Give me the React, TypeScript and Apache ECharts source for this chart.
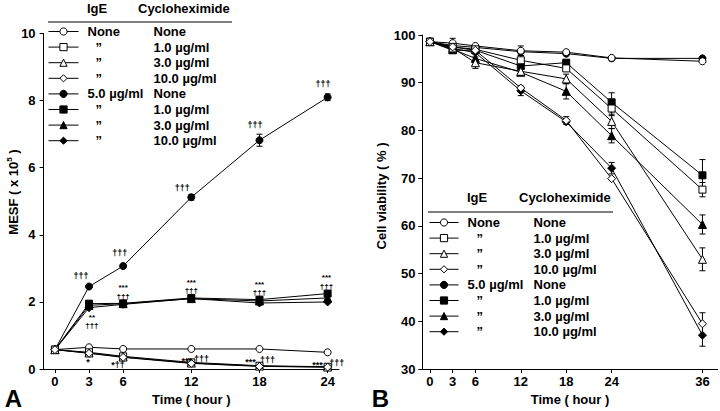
import React, { useEffect, useRef } from "react";
import * as echarts from "echarts";

const FONT = "'Liberation Sans', Arial, Helvetica, sans-serif";

// ---- categories / tick values ----
const hoursA = [0, 3, 6, 12, 18, 24];
const hoursB = [0, 3, 6, 12, 18, 24, 36];
const tickHoursA = [0, 3, 6, 12, 18, 24];
const tickHoursB = [0, 3, 6, 12, 18, 24, 36];

// ---- legend groups ----
const groupIgE = ["None", "”", "”", "”", "5.0 µg/ml", "”", "”", "”"];
const groupCyclo = ["None", "1.0 µg/ml", "3.0 µg/ml", "10.0 µg/ml", "None", "1.0 µg/ml", "3.0 µg/ml", "10.0 µg/ml"];
const groupSymbol = ["circle", "rect", "triangle", "diamond", "circle", "rect", "triangle", "diamond"];
const groupFilled = [false, false, false, false, true, true, true, true];

// ---- Panel A: MESF (x10^5) ----
const mesfNoneNone = [0.58, 0.65, 0.6, 0.6, 0.6, 0.5];
const mesfNoneC1 = [0.58, 0.5, 0.38, 0.2, 0.1, 0.07];
const mesfNoneC3 = [0.58, 0.48, 0.36, 0.18, 0.09, 0.06];
const mesfNoneC10 = [0.58, 0.47, 0.35, 0.17, 0.08, 0.06];
const mesfIgENone = [0.58, 2.46, 3.07, 5.12, 6.82, 8.1];
const mesfIgEC1 = [0.58, 1.95, 1.96, 2.12, 2.07, 2.25];
const mesfIgEC3 = [0.58, 1.9, 1.95, 2.1, 2.03, 2.12];
const mesfIgEC10 = [0.58, 1.83, 1.93, 2.1, 1.97, 2.0];
const mesfIgENoneErr = [0, 0, 0, 0.08, 0.18, 0.1];

// ---- Panel A significance marks ----
const sigLabels = ["†††", "†††", "†††", "†††", "†††", "***\n†††", "***\n†††", "***\n†††", "***\n†††", "**\n†††", "*", "*††", "***", "†††", "***", "†††", "***", "†††"];
const sigHour = [2.3, 5.7, 11.2, 17.6, 23.6, 6, 12, 18, 23.9, 3.25, 2.9, 5.55, 11.6, 12.9, 17.2, 18.7, 23.1, 24.8];
const sigMesf = [2.76, 3.45, 5.4, 7.28, 8.5, 2.29, 2.46, 2.4, 2.59, 1.42, 0.27, 0.18, 0.3, 0.3, 0.28, 0.28, 0.18, 0.18];

// ---- Panel B: cell viability (%) ----
const viabNoneNone = [98.6, 98.3, 97.7, 96.7, 96.4, 95.2, 94.5];
const viabNoneC1 = [98.6, 97.5, 97.0, 94.7, 93.0, 84.6, 67.6];
const viabNoneC3 = [98.6, 97.3, 94.2, 92.4, 90.8, 81.9, 53.0];
const viabNoneC10 = [98.6, 97.5, 96.8, 88.9, 82.1, 69.9, 39.5];
const viabIgENone = [98.6, 97.8, 97.4, 96.5, 96.1, 95.1, 95.1];
const viabIgEC1 = [98.6, 96.8, 96.8, 93.5, 94.2, 85.9, 70.6];
const viabIgEC3 = [98.6, 97.0, 95.1, 92.2, 88.2, 78.9, 60.3];
const viabIgEC10 = [98.6, 97.2, 96.3, 88.3, 81.8, 72.1, 37.1];

const viabNoneNoneErr = [0, 1.0, 0, 1.0, 0, 0, 0];
const viabNoneC1Err = [0, 0, 0, 1.0, 0, 1.5, 1.5];
const viabNoneC3Err = [0, 0, 1.2, 0.8, 1.0, 1.5, 2.4];
const viabNoneC10Err = [0, 0, 0, 0, 0.8, 0, 2.3];
const viabIgENoneErr = [0, 0, 0, 0, 0, 0, 0];
const viabIgEC1Err = [0, 0, 0, 0, 0, 2.0, 3.3];
const viabIgEC3Err = [0, 0, 0, 0, 1.6, 1.5, 2.0];
const viabIgEC10Err = [0, 0, 0, 1.0, 0, 1.2, 2.3];

const mesfAll = [mesfNoneNone, mesfNoneC1, mesfNoneC3, mesfNoneC10, mesfIgENone, mesfIgEC1, mesfIgEC3, mesfIgEC10];
const viabAll = [viabNoneNone, viabNoneC1, viabNoneC3, viabNoneC10, viabIgENone, viabIgEC1, viabIgEC3, viabIgEC10];
const viabErrAll = [viabNoneNoneErr, viabNoneC1Err, viabNoneC3Err, viabNoneC10Err, viabIgENoneErr, viabIgEC1Err, viabIgEC3Err, viabIgEC10Err];

const namesA = groupCyclo.map((_, i) => "A" + i);
const namesB = groupCyclo.map((_, i) => "B" + i);

function lineSeries(name: string, xs: number[], ys: number[], idx: number, axis: number, size: number) {
  const filled = groupFilled[idx];
  return {
    type: "line",
    name,
    xAxisIndex: axis,
    yAxisIndex: axis,
    data: xs.map((x, i) => [x, ys[i]]),
    symbol: groupSymbol[idx],
    symbolSize: groupSymbol[idx] === "triangle" || groupSymbol[idx] === "diamond" ? size + 1 : size,
    showAllSymbol: true,
    lineStyle: { color: "#000", width: 1 },
    itemStyle: { color: filled ? "#000" : "#fff", borderColor: "#000", borderWidth: 1 },
    z: filled ? 3 : 4,
    silent: true,
  };
}

function errSeries(xs: number[], ys: number[], errs: number[], axis: number) {
  const data: number[][] = [];
  xs.forEach((x, i) => {
    if (errs[i] > 0) data.push([x, ys[i] - errs[i], ys[i] + errs[i]]);
  });
  return {
    type: "custom",
    xAxisIndex: axis,
    yAxisIndex: axis,
    data,
    silent: true,
    z: 2,
    renderItem: (_p: any, api: any) => {
      const x = api.value(0);
      const lo = api.coord([x, api.value(1)]);
      const hi = api.coord([x, api.value(2)]);
      const cap = 3;
      const st = { stroke: "#000", lineWidth: 1 };
      return {
        type: "group",
        children: [
          { type: "line", shape: { x1: lo[0], y1: lo[1], x2: hi[0], y2: hi[1] }, style: st },
          { type: "line", shape: { x1: lo[0] - cap, y1: lo[1], x2: lo[0] + cap, y2: lo[1] }, style: st },
          { type: "line", shape: { x1: hi[0] - cap, y1: hi[1], x2: hi[0] + cap, y2: hi[1] }, style: st },
        ],
      };
    },
  };
}

// significance marks drawn as text at data coordinates
function sigSeries() {
  const data = sigLabels.map((t, i) => [sigHour[i], sigMesf[i], i]);
  return {
    type: "custom",
    xAxisIndex: 0,
    yAxisIndex: 0,
    data,
    silent: true,
    z: 6,
    renderItem: (_p: any, api: any) => {
      const p = api.coord([api.value(0), api.value(1)]);
      const t = sigLabels[api.value(2)];
      const multi = t.indexOf("\n") >= 0;
      const dy = !multi && t.charAt(0) === "*" ? 2 : 0;
      return {
        type: "text",
        x: p[0],
        y: p[1] + dy,
        style: {
          text: t,
          fill: "#000",
          fontFamily: FONT,
          fontWeight: "bold",
          fontSize: multi ? 8 : 9,
          lineHeight: multi ? 8.5 : 10,
          textAlign: "center",
          textVerticalAlign: "middle",
        },
      };
    },
  };
}

const txt = { fontFamily: FONT, fontWeight: "bold" as const, fontSize: 13, color: "#000" };

function legendRich(dittoPad: number) {
  return {
    a: { ...txt, width: 66, padding: [0, 0, 0, 4], lineHeight: 16 },
    d: { ...txt, width: 70 - dittoPad, padding: [0, 0, 0, dittoPad], lineHeight: 16 },
    b: { ...txt, lineHeight: 16 },
  };
}

function legendLabel(idx: number) {
  const ige = groupIgE[idx];
  const cy = groupCyclo[idx];
  return ige === "”" ? `{d|${ige}}{b|${cy}}` : `{a|${ige}}{b|${cy}}`;
}

function makeLegend(names: string[], left: number, top: number, itemWidth: number, dittoPad: number) {
  return {
    data: names,
    orient: "vertical",
    left,
    top,
    padding: 0,
    itemWidth,
    itemHeight: 9,
    itemGap: 2.6,
    selectedMode: false,
    itemStyle: { borderWidth: 1 },
    lineStyle: { width: 1 },
    textStyle: { ...txt, rich: legendRich(dittoPad) },
    formatter: (name: string) => legendLabel(names.indexOf(name)),
  };
}

const axisLineStyle = { show: true, lineStyle: { color: "#000", width: 1 } };

function xAxis(gridIndex: number, min: number, max: number, ticks: number[]) {
  return {
    type: "value",
    gridIndex,
    min,
    max,
    axisLine: { ...axisLineStyle, onZero: false },
    axisTick: { show: true, inside: false, length: 4, customValues: ticks, lineStyle: { color: "#000" } },
    axisLabel: { ...txt, margin: 6, customValues: ticks },
    splitLine: { show: false },
    name: "Time ( hour )",
    nameLocation: "middle",
    nameGap: 22,
    nameTextStyle: { ...txt },
  };
}

function yAxis(gridIndex: number, min: number, max: number, interval: number, margin: number) {
  return {
    type: "value",
    gridIndex,
    min,
    max,
    interval,
    axisLine: { ...axisLineStyle, onZero: false },
    axisTick: { show: true, inside: false, length: 4, lineStyle: { color: "#000" } },
    axisLabel: { ...txt, margin },
    splitLine: { show: false },
  };
}

function buildOption() {
  const series: any[] = [];
  mesfAll.forEach((ys, i) => series.push(lineSeries(namesA[i], hoursA, ys, i, 0, 7)));
  series.push(errSeries(hoursA, mesfIgENone, mesfIgENoneErr, 0));
  viabAll.forEach((ys, i) => series.push(lineSeries(namesB[i], hoursB, ys, i, 1, 7)));
  viabAll.forEach((ys, i) => series.push(errSeries(hoursB, ys, viabErrAll[i], 1)));
  series.push(sigSeries());

  const gtext = (text: string, x: number, y: number, size: number, align = "left", extra: any = {}) => ({
    type: "text",
    x,
    y,
    silent: true,
    style: {
      text,
      fontFamily: FONT,
      fontWeight: "bold",
      fontSize: size,
      fill: "#000",
      textAlign: align,
      textVerticalAlign: "middle",
      ...extra,
    },
  });

  return {
    animation: false,
    backgroundColor: "#fff",
    textStyle: { fontFamily: FONT },
    grid: [
      { left: 43.6, top: 33.5, width: 295.4, height: 336.5 },
      { left: 422.4, top: 35, width: 295.2, height: 335 },
    ],
    xAxis: [xAxis(0, -1, 25, tickHoursA), xAxis(1, -1, 38, tickHoursB)],
    yAxis: [yAxis(0, 0, 10, 2, 8), yAxis(1, 30, 100, 10, 7)],
    legend: [makeLegend(namesA, 48, 25, 30, 12), makeLegend(namesB, 429, 216, 29, 13)],
    series,
    graphic: [
      gtext("IgE", 87, 8.5, 13),
      gtext("Cycloheximide", 138, 8.5, 13),
      { type: "line", silent: true, shape: { x1: 48, y1: 22, x2: 232, y2: 22 }, style: { stroke: "#000", lineWidth: 1 } },
      gtext("IgE", 467, 197, 13),
      gtext("Cycloheximide", 519, 197, 13),
      { type: "line", silent: true, shape: { x1: 428, y1: 212, x2: 613, y2: 212 }, style: { stroke: "#000", lineWidth: 1 } },
      {
        type: "text",
        x: 13,
        y: 192,
        rotation: Math.PI / 2,
        silent: true,
        style: {
          text: "{n|MESF ( x 10}{s|5}{n| )}",
          textAlign: "center",
          textVerticalAlign: "middle",
          rich: {
            n: { fontFamily: FONT, fontWeight: "bold", fontSize: 13, fill: "#000", lineHeight: 16 },
            s: { fontFamily: FONT, fontWeight: "bold", fontSize: 8, fill: "#000", verticalAlign: "top", lineHeight: 16 },
          },
        },
      },
      {
        type: "text",
        x: 381,
        y: 196,
        rotation: Math.PI / 2,
        silent: true,
        style: {
          text: "Cell viability ( % )",
          fontFamily: FONT,
          fontWeight: "bold",
          fontSize: 13,
          fill: "#000",
          textAlign: "center",
          textVerticalAlign: "middle",
        },
      },
      gtext("A", 13.5, 398.5, 24, "center"),
      gtext("B", 380.5, 398, 24, "center"),
    ],
  };
}

export default function App() {
  const ref = useRef<HTMLDivElement>(null);
  useEffect(() => {
    const chart = echarts.init(ref.current as HTMLDivElement, null, { renderer: "svg" });
    chart.setOption(buildOption() as any);
    return () => chart.dispose();
  }, []);
  return (
    <div
      ref={ref}
      style={{ position: "fixed", left: 0, top: 0, width: 720, height: 411, background: "#fff" }}
    />
  );
}
